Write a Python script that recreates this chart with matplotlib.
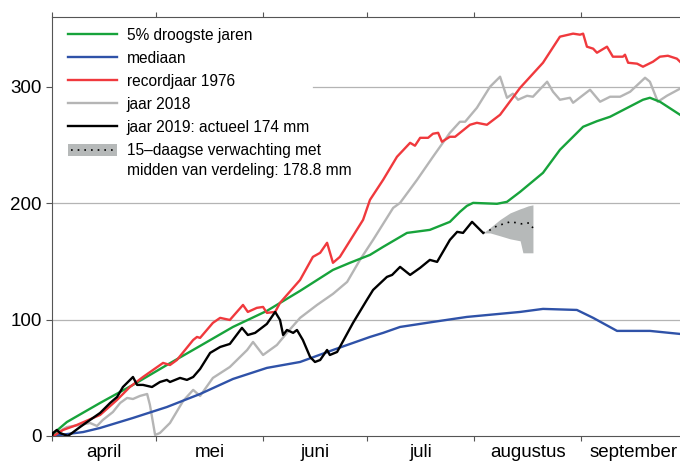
import matplotlib
matplotlib.use("Agg")
import matplotlib.pyplot as plt
from matplotlib.lines import Line2D
from matplotlib.patches import Rectangle, Patch
from matplotlib.legend_handler import HandlerBase

plt.rcParams['font.family'] = ['Liberation Sans', 'DejaVu Sans']

# ---- data (days since 1 April, precipitation deficit in mm) ----
month_labels = ["april", "mei", "juni", "juli", "augustus", "september"]
month_starts = [0, 30, 61, 91, 122, 153]
month_mids = [15, 45.5, 76, 106.5, 137.5, 168]

green_days = [0, 0.9, 4.3, 13.9, 23.4, 33.2, 42.8, 52.3, 62.1, 71.7, 81.2, 86.1, 91.9, 95.7,
              102.6, 109.2, 115.0, 117.9, 119.9, 121.7, 128.6, 131.5, 135.3, 141.9, 146.8,
              153.5, 157.5, 161.3, 170.8, 172.8, 175.7, 181.5]
green_vals = [0, 3.4, 12.0, 28.4, 43.9, 61.0, 77.4, 93.7, 107.5, 124.7, 142.7, 148.8, 155.6, 162.5,
              174.5, 177.1, 184.0, 192.6, 197.7, 200.3, 199.5, 201.2, 209.8, 226.1, 245.9,
              265.7, 270.5, 274.3, 288.9, 290.6, 287.2, 276.0]

blue_days = [0, 9.0, 13.9, 23.4, 33.2, 42.8, 52.3, 62.1, 71.7, 81.2, 91.9, 95.7, 100.6, 110.1,
             119.9, 135.3, 141.9, 151.7, 156.4, 163.3, 172.8, 181.5]
blue_vals = [0, 3.4, 6.9, 15.5, 24.9, 36.1, 49.0, 58.5, 63.6, 73.9, 85.1, 88.6, 93.7, 98.0,
             102.3, 106.6, 109.2, 108.3, 101.5, 90.3, 90.3, 87.7]

red_days = [0, 0.9, 3.2, 7.2, 13.9, 18.8, 22.5, 26.3, 32.1, 34.1, 36.1, 40.8, 41.9, 42.8, 46.5,
            48.6, 51.4, 55.2, 56.6, 59.2, 61.0, 62.1, 64.5, 65.9, 71.7, 75.4, 77.5, 79.5, 81.2,
            83.2, 89.9, 91.9, 95.7, 99.7, 103.5, 104.9, 106.4, 108.7, 110.1, 111.6, 112.7,
            115.0, 116.5, 120.8, 122.8, 125.7, 129.5, 135.3, 141.9, 146.8, 150.6, 152.6, 153.5,
            154.6, 156.4, 157.5, 160.4, 162.1, 165.0, 165.6, 166.5, 169.1, 170.8, 173.7, 175.7,
            178.0, 180.6, 181.5]
red_vals = [0, 0.9, 5.2, 9.5, 18.1, 31.0, 42.1, 50.7, 62.8, 61.0, 65.3, 82.5, 85.1, 84.3, 97.2,
            101.5, 99.7, 112.6, 106.6, 110.1, 110.9, 105.8, 106.6, 114.4, 134.1, 153.9, 157.4,
            166.0, 148.8, 153.9, 185.7, 202.9, 220.1, 239.9, 251.9, 249.4, 256.2, 256.2, 259.7,
            260.5, 252.8, 257.1, 257.1, 267.4, 269.1, 267.4, 276.0, 299.2, 320.7, 343.1, 345.7,
            344.8, 345.7, 334.5, 332.8, 329.3, 334.5, 325.9, 325.9, 327.6, 320.7, 319.9, 317.3,
            321.6, 325.9, 326.7, 324.2, 321.6]

gray_days = [0, 0.3, 4.3, 8.1, 11.0, 13.0, 14.7, 17.6, 19.7, 21.7, 23.4, 25.4, 27.5, 28.3, 29.8,
             31.2, 34.1, 37.9, 40.8, 42.8, 46.5, 51.4, 56.4, 58.1, 61.0, 65.0, 67.9, 71.7, 76.6,
             81.2, 85.3, 89.0, 92.8, 98.6, 100.6, 105.5, 110.1, 115.0, 117.9, 119.4, 122.8,
             126.6, 129.5, 131.5, 133.2, 134.7, 137.3, 139.0, 143.1, 144.8, 146.8, 149.7, 150.6,
             155.5, 158.4, 161.3, 164.2, 167.1, 171.4, 172.8, 175.1, 177.7, 181.5]
gray_vals = [0, 0.9, 7.7, 9.5, 11.2, 8.6, 13.8, 20.6, 28.4, 32.7, 31.8, 34.4, 36.1, 26.7, 0.9,
             2.6, 11.2, 30.1, 39.6, 34.4, 49.9, 59.3, 73.9, 80.8, 69.6, 78.2, 88.6, 101.5, 112.6,
             122.1, 132.4, 151.3, 168.5, 196.0, 200.3, 220.1, 239.9, 260.5, 270.0, 270.0, 282.0,
             300.1, 308.7, 290.6, 294.1, 288.9, 292.3, 291.5, 304.4, 295.8, 288.9, 290.6, 286.3,
             297.5, 287.2, 291.5, 291.5, 295.8, 307.8, 304.4, 287.2, 292.3, 298.4]

black_days = [0, 0.3, 1.4, 2.3, 4.6, 5.8, 8.1, 11.0, 13.9, 16.8, 18.8, 20.5, 23.4, 24.6, 26.3,
              28.9, 31.2, 33.2, 34.1, 37.0, 39.0, 40.8, 42.8, 45.7, 48.6, 51.4, 54.9, 56.6, 58.7,
              62.1, 64.5, 65.9, 66.8, 67.9, 69.7, 70.8, 72.5, 74.6, 76.0, 77.5, 79.5, 80.3, 82.4,
              83.2, 87.0, 91.0, 92.8, 96.8, 98.3, 100.6, 103.5, 106.4, 109.2, 111.3, 115.0,
              117.1, 118.8, 121.4, 124.6]
black_vals = [0, 2.6, 5.2, 2.6, 0, 2.6, 7.7, 13.8, 19.8, 28.4, 33.5, 42.1, 50.7, 43.9, 43.9,
              42.1, 46.4, 48.2, 46.4, 49.9, 48.2, 50.7, 57.6, 71.4, 76.5, 79.1, 92.9, 86.8, 88.6,
              96.3, 106.6, 99.7, 86.8, 91.1, 88.6, 91.1, 82.5, 67.9, 63.6, 65.3, 73.9, 69.6, 72.2,
              76.5, 97.2, 116.9, 125.5, 136.7, 138.4, 145.3, 138.4, 144.5, 151.3, 149.6, 168.5,
              175.4, 174.5, 184.0, 174.5]

fc_days = [124.6, 126.6, 129.5, 132.4, 135.3, 136.1, 137.6, 139.0]
fc_low = [174.5, 174.5, 172.0, 169.4, 167.7, 157.4, 157.4, 157.4]
fc_high = [174.5, 179.0, 186.0, 191.7, 195.2, 196.0, 197.7, 198.6]
fc_mid_days = [124.6, 126.6, 128.6, 130.6, 132.4, 134.3, 135.7, 137.9, 139.0]
fc_mid = [174.5, 177.0, 180.5, 182.3, 184.0, 183.2, 182.3, 183.1, 178.8]

labels = ["5% droogste jaren", "mediaan", "recordjaar 1976", "jaar 2018",
          "jaar 2019: actueel 174 mm",
          "15\u2013daagse verwachting met\nmidden van verdeling: 178.8 mm"]

# ---- styles ----
c_green = "#17a33b"
c_blue = "#2f52a8"
c_red = "#f0393d"
c_gray = "#b5b5b5"
c_black = "#000000"
c_band = "#b6b9b9"
lw = 1.7

fig = plt.figure(figsize=(6.8, 4.66), dpi=100)
ax = fig.add_axes([52 / 680, 30 / 466, 628 / 680, 419 / 466])

ax.set_xlim(0, 181.5)
ax.set_ylim(0, 360)

# grid lines
grid_kw = dict(color="#b4b4b4", lw=0.9, zorder=0)
ax.axhline(100, **grid_kw)
ax.axhline(200, **grid_kw)
ax.plot([75.4, 181.5], [300, 300], **grid_kw)

ax.fill_between(fc_days, fc_low, fc_high, color=c_band, lw=0, zorder=2)
ax.plot(fc_mid_days, fc_mid, color="k", lw=1.2, ls=(0, (1, 3)), zorder=3)

ax.plot(gray_days, gray_vals, color=c_gray, lw=lw, zorder=3)
ax.plot(green_days, green_vals, color=c_green, lw=lw, zorder=4)
ax.plot(blue_days, blue_vals, color=c_blue, lw=lw, zorder=4)
ax.plot(red_days, red_vals, color=c_red, lw=lw, zorder=5)
ax.plot(black_days, black_vals, color=c_black, lw=lw, zorder=6)

# axes styling
ax.spines["right"].set_visible(False)
for s in ["left", "bottom", "top"]:
    ax.spines[s].set_color("#555555")
    ax.spines[s].set_linewidth(0.8)

ax.set_yticks([0, 100, 200, 300])
ax.tick_params(axis="y", direction="out", length=4, width=0.8, color="#555555",
               labelsize=13.5, pad=3.5)
ax.set_xticks(month_starts)
ax.set_xticklabels([])
ax.set_xticks(month_mids, labels=month_labels, minor=True)
ax.tick_params(axis="x", which="major", direction="out", length=3.5, width=0.8,
               color="#555555", top=True, bottom=True)
ax.tick_params(axis="x", which="minor", length=0, labelsize=13.5, pad=6)


class ForecastHandler(HandlerBase):
    def create_artists(self, legend, orig_handle, xdescent, ydescent, width, height,
                       fontsize, trans):
        yc = -ydescent + height / 2 + 0.7 * fontsize
        rect = Rectangle((-xdescent, yc - 0.36 * fontsize), width, 0.72 * fontsize,
                         facecolor=c_band, edgecolor="none", transform=trans)
        line = Line2D([-xdescent + 2, -xdescent + width - 2], [yc, yc], color="k",
                      lw=1.2, ls=(0, (1, 3)), transform=trans)
        return [rect, line]


handles = [Line2D([], [], color=c_green, lw=lw),
           Line2D([], [], color=c_blue, lw=lw),
           Line2D([], [], color=c_red, lw=lw),
           Line2D([], [], color=c_gray, lw=lw),
           Line2D([], [], color=c_black, lw=lw),
           Patch(facecolor=c_band)]
leg = ax.legend(handles, labels, loc="upper left", bbox_to_anchor=(16 / 628, 1 - 10.5 / 419),
                frameon=False, fontsize=11.2, handlelength=3.15, handletextpad=0.62,
                labelspacing=0.52, borderpad=0, borderaxespad=0,
                handler_map={Patch: ForecastHandler()})
leg.get_texts()[5].set_linespacing(1.4)

fig.savefig("out.png", dpi=100)
